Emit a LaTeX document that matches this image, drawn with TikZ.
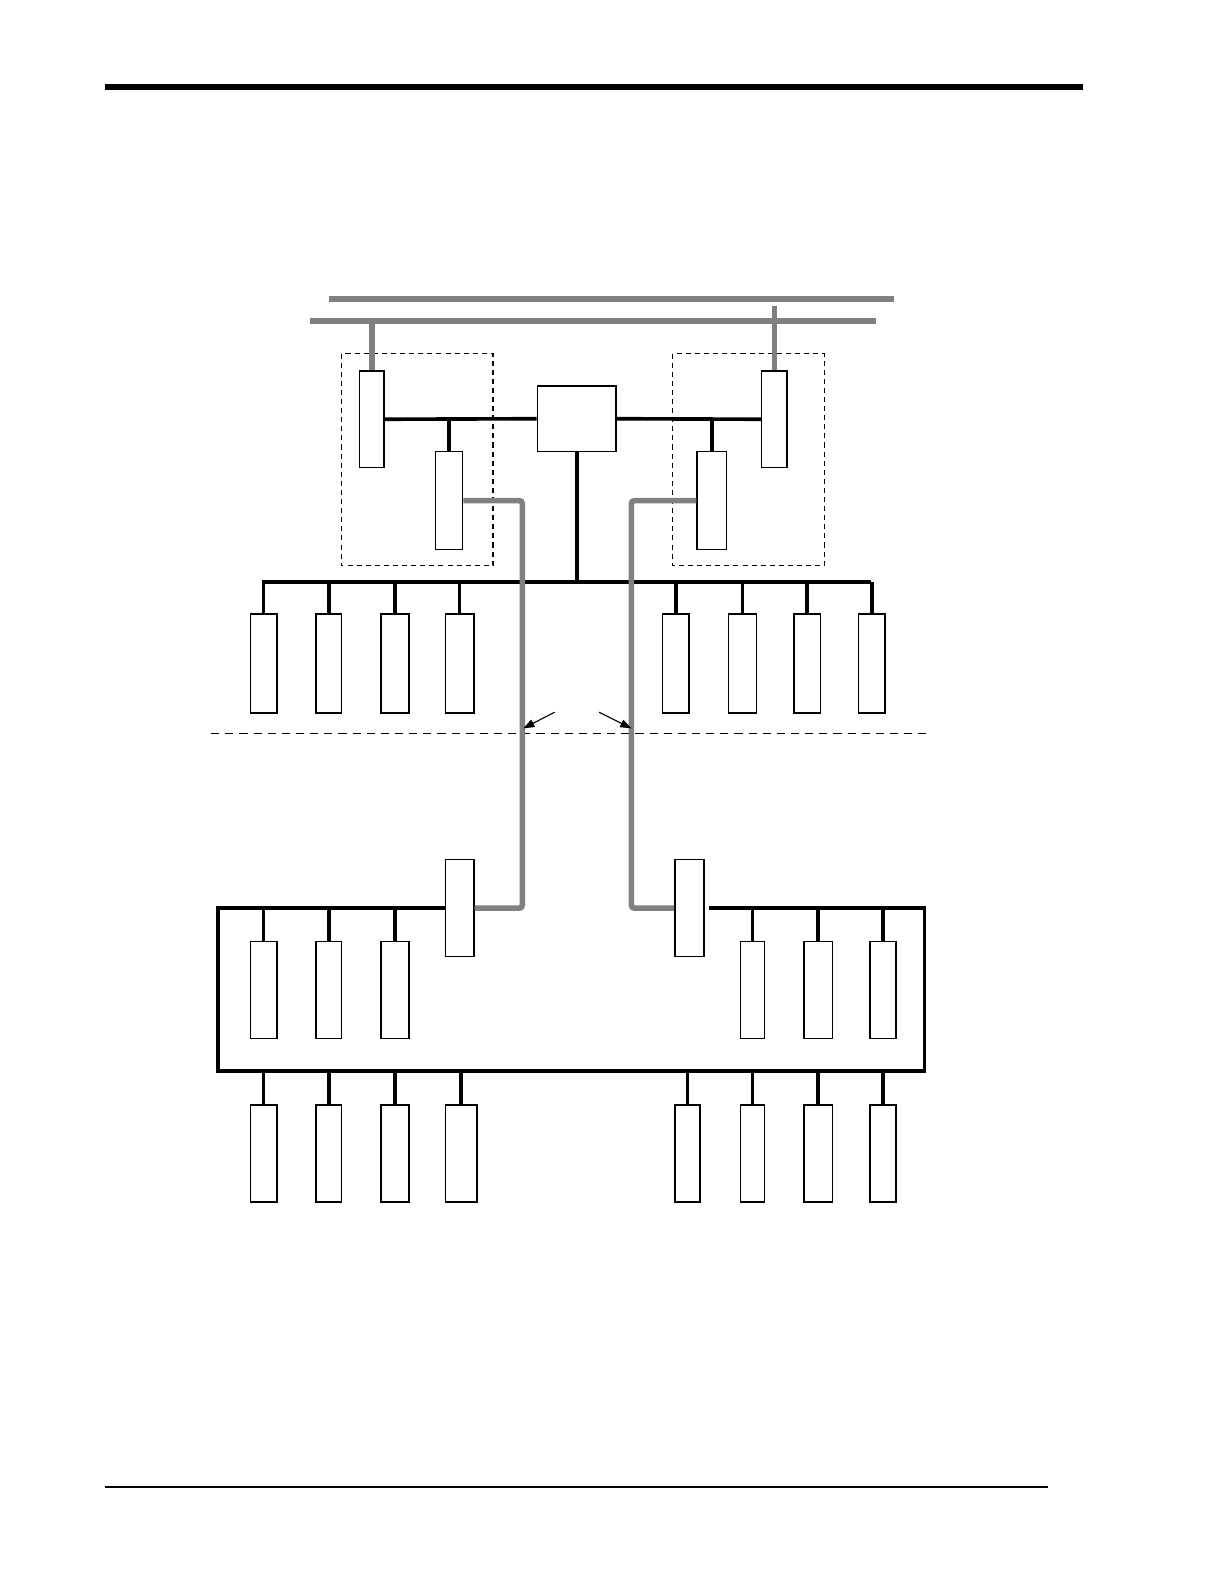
\documentclass[tikz,border=0pt]{standalone}
\usetikzlibrary{arrows.meta}
\definecolor{cable}{RGB}{128,128,128}
\tikzset{
  dev/.style={draw, line width=1.5pt, fill=white, inner sep=0pt, minimum width=26pt, minimum height=97pt},
  bus/.style={line width=3.6pt, line join=miter},
  fiber/.style={line width=5.5pt, draw=cable, rounded corners=3pt},
  bar/.style={line width=6pt, draw=cable},
  zone/.style={draw, line width=1.2pt, dash pattern=on 5pt off 4pt},
  pointer/.style={line width=1.1pt, -{Triangle[length=11pt,width=8pt]}}
}
\begin{document}
\begin{tikzpicture}[x=1pt,y=-1pt]
\useasboundingbox (0,0) rectangle (1212,1568);
% page rules
\coordinate (r1L) at (104,86); \coordinate (r1R) at (1072,86);
\coordinate (r2L) at (104,1472); \coordinate (r2R) at (1037,1472);
\draw[line width=5.5pt] (r1L) -- (r1R);
\draw[line width=1.6pt] (r2L) -- (r2R);

% gray bars
\coordinate (b1L) at (326,296); \coordinate (b1R) at (885,296);
\coordinate (b2L) at (307,318); \coordinate (b2R) at (867,318);
\coordinate (b1s) at (767,303);
\draw[bar] (b1L) -- (b1R);
\draw[bar] (b2L) -- (b2R);

% dashed zones
\draw[zone] (338,350) rectangle (488,560);
\draw[zone] (666,350) rectangle (816,560);

% upper devices
\node[dev, minimum width=24pt, minimum height=96pt] (TLA) at (368,415) {};
\node[dev, minimum width=27pt] (TLB) at (444.5,495.5) {};
\node[dev, minimum width=78pt, minimum height=65pt] (C) at (571,414.5) {};
\node[dev, minimum width=25pt, minimum height=96pt] (TRA) at (766.5,415) {};
\node[dev, minimum width=29pt] (TRB) at (704.5,495.5) {};

% gray drops from bars
\draw[line width=5.5pt, draw=cable] (TLA.north) -- (TLA.north |- b2L);
\draw[line width=5.5pt, draw=cable] (TRA.north) -- (TRA.north |- b1s);

% upper black links
\draw[bus] (TLA.east) -- (C.west);
\draw[bus] (TLB.north) -- (TLB.north |- TLA.east);
\draw[bus] (C.east) -- (TRA.west);
\draw[bus] (TRB.north) -- (TRB.north |- TRA.west);

% main bus
\coordinate (mbL) at (259,576); \coordinate (mbR) at (862,576);
\draw[bus] (mbL) -- (mbR);
\draw[bus] (C.south) -- (C.south |- mbL);

% row 1 devices
\foreach \n/\x/\w in {A1/261/26, A2/325.5/25, A3/391/28, A4/455/28, A5/669/26, A6/735/28, A7/799/26, A8/863/26}{
  \node[dev, minimum width=\w pt, minimum height=98pt] (\n) at (\x,657) {};
  \draw[bus] (\n.north) -- (\n.north |- mbL);
}

% dashed separator
\coordinate (sepL) at (209,726); \coordinate (sepR) at (920,726);
\draw[line width=1.3pt, dash pattern=on 8pt off 6pt] (sepL) -- (sepR);

% lower gateways
\node[dev, minimum width=28pt, minimum height=96pt] (GL) at (455,899) {};
\node[dev, minimum width=29pt, minimum height=96pt] (GR) at (682.5,899) {};

% gray fiber links
\coordinate (fl) at (517,0); \coordinate (fr) at (625,0);
\draw[fiber] (TLB.east) -| (fl |- GL.east) -- (GL.east);
\draw[fiber] (TRB.west) -| (fr |- GR.west) -- (GR.west);

% pointers
\coordinate (pl0) at (549,705); \coordinate (pl1) at (518,721);
\coordinate (pr0) at (593,705); \coordinate (pr1) at (625,721);
\draw[pointer] (pl0) -- (pl1);
\draw[pointer] (pr0) -- (pr1);

% lower ring bus
\coordinate (rTL) at (216,899); \coordinate (rBL) at (216,1060);
\coordinate (rBR) at (915,1060); \coordinate (rTR) at (915,899);
\draw[bus] (GL.west) -- (rTL) -- (rBL) -- (rBR) -- (rTR) -- ([xshift=4pt]GR.east);

% row 2 devices (inside ring)
\foreach \n/\x/\w in {B1/261/26, B2/325.5/25, B3/391/28, B4/745/24, B5/810/28, B6/874/26}{
  \node[dev, minimum width=\w pt, minimum height=96pt] (\n) at (\x,980) {};
  \draw[bus] (\n.north) -- (\n.north |- rTL);
}

% row 3 devices (below ring)
\foreach \n/\x/\w in {D1/261/26, D2/325.5/25, D3/391/28, D4/456.5/31, D5/680.5/25, D6/745/24, D7/810/28, D8/874/26}{
  \node[dev, minimum width=\w pt, minimum height=96pt] (\n) at (\x,1142) {};
  \draw[bus] (\n.north) -- (\n.north |- rBL);
}
\end{tikzpicture}
\end{document}
